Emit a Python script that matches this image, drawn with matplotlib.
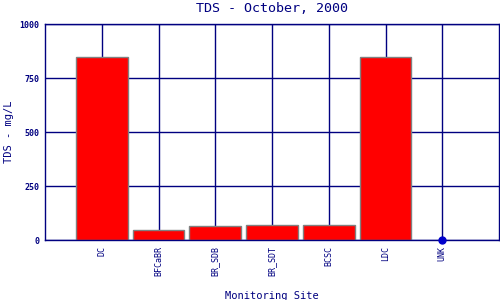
import matplotlib
matplotlib.use("Agg")
import matplotlib.pyplot as plt

sites = ["DC", "BFCaBR", "BR_SDB", "BR_SDT", "BCSC", "LDC", "UNK"]
tds = [846, 45, 63, 68, 68, 849, 0]
yticks = [0, 250, 500, 750, 1000]

navy = "#000080"
plt.rcParams["font.family"] = "DejaVu Sans Mono"

fig = plt.figure(figsize=(5, 3), dpi=100)
ax = fig.add_axes([45 / 500, 60 / 300, 454 / 500, 216 / 300])

pos = list(range(1, len(sites) + 1))
ax.set_axisbelow(True)
ax.grid(True, color=navy, linewidth=1)
ax.bar(pos[:-1], tds[:-1], width=0.91, color="red", edgecolor="#808080", linewidth=1, zorder=2)
ax.plot(pos[-1], tds[-1], "o", color="#0000cc", markersize=5, zorder=3, clip_on=False)

ax.set_xlim(0, 8)
ax.set_ylim(0, 1000)
ax.set_xticks(pos)
ax.set_xticklabels(sites, rotation=90, fontsize=6, color=navy)
ax.set_yticks(yticks)
ax.set_yticklabels([str(v) for v in yticks], fontsize=6, color=navy, fontweight="bold")
ax.tick_params(length=0, pad=4)
for s in ax.spines.values():
    s.set_color(navy)
    s.set_linewidth(1)

ax.set_title("TDS - October, 2000", fontsize=9.6, color=navy, pad=8.5)
ax.set_xlabel("Monitoring Site", fontsize=7.5, color=navy)
ax.xaxis.set_label_coords(0.5, -0.235)
fig.text(9 / 500, 1 - 132 / 300, "TDS - mg/L", fontsize=7.5, color=navy,
         rotation=90, ha="center", va="center")

fig.savefig("out.png", dpi=100)
